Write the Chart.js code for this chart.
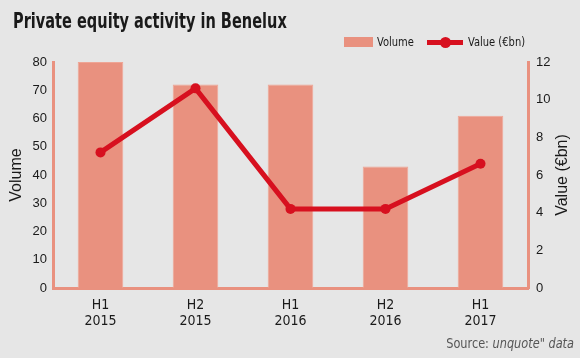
<!DOCTYPE html>
<html>
<head>
<meta charset="utf-8">
<script src="https://cdn.jsdelivr.net/npm/chart.js@4.4.1/dist/chart.umd.min.js"></script>
<style>
  html, body { margin: 0; padding: 0; background: #e6e6e6; }
  #wrap { position: relative; width: 580px; height: 358px; overflow: hidden; background: #e6e6e6; }
  #chart { position: absolute; left: 0; top: 0; }
  .narrow { font-family: "Liberation Sans Narrow", "DejaVu Sans Condensed", sans-serif; }
  #title { position: absolute; left: 13px; top: 9px; font-size: 21px; font-weight: bold; color: #1a1a1a; white-space: nowrap;
           transform: scaleX(0.77); transform-origin: left center; }
  .lg { position: absolute; font-size: 13px; line-height: 16px; color: #1a1a1a; white-space: nowrap;
        transform: scaleX(0.85); transform-origin: left center; }
  .swatch { position: absolute; left: 344px; top: 37px; width: 29px; height: 10px; background: #e9917f; }
  .lineSym { position: absolute; left: 427px; top: 40px; width: 36px; height: 5px; background: #d7101f; }
  .dot { position: absolute; left: 440px; top: 37px; width: 11px; height: 11px; border-radius: 50%; background: #d7101f; }
  #source { position: absolute; right: 6px; top: 334px; font-size: 14px; line-height: 18px; color: #555; white-space: nowrap;
            transform: scaleX(0.9); transform-origin: right center; }
</style>
</head>
<body>
<div id="wrap">
  <canvas id="chart" width="580" height="358"></canvas>
  <div id="title" class="narrow">Private equity activity in Benelux</div>
  <div class="swatch"></div>
  <div class="lg narrow" style="left:377px; top:34px">Volume</div>
  <div class="lineSym"></div>
  <div class="dot"></div>
  <div class="lg narrow" style="left:468px; top:34px">Value (€bn)</div>
  <div id="source" class="narrow">Source: <i>unquote" data</i></div>
</div>
<script>
// data
const periods = [['H1', '2015'], ['H2', '2015'], ['H1', '2016'], ['H2', '2016'], ['H1', '2017']];
const volume = [80, 72, 72, 43, 61];
const valueBn = [7.2, 10.6, 4.2, 4.2, 6.6];
const volumeTicks = [0, 10, 20, 30, 40, 50, 60, 70, 80];
const valueTicks = [0, 2, 4, 6, 8, 10, 12];

const salmon = '#e9917f';
const red = '#d7101f';
const tickFont = { family: '"Liberation Sans", Arial, sans-serif', size: 13 };

// axis titles drawn by hand so the right one reads bottom to top like the original
const axisTitles = {
    id: 'axisTitles',
    afterDraw(chart) {
        const { ctx, chartArea } = chart;
        const midY = (chartArea.top + chartArea.bottom) / 2;
        ctx.save();
        ctx.fillStyle = '#1a1a1a';
        ctx.font = '16px "Liberation Sans", Arial, sans-serif';
        ctx.textAlign = 'center';
        ctx.textBaseline = 'middle';
        [['Volume', 17], ['Value (€bn)', 563]].forEach(([txt, x]) => {
            ctx.save();
            ctx.translate(x, midY);
            ctx.rotate(-Math.PI / 2);
            ctx.fillText(txt, 0, 0);
            ctx.restore();
        });
        ctx.restore();
    }
};

new Chart(document.getElementById('chart'), {
    data: {
        labels: periods,
        datasets: [
            {
                type: 'line',
                label: 'Value (€bn)',
                data: valueBn,
                yAxisID: 'yValue',
                borderColor: red,
                backgroundColor: red,
                borderWidth: 5,
                pointRadius: 5,
                pointHoverRadius: 5,
                pointBackgroundColor: red,
                pointBorderWidth: 0,
                tension: 0,
                order: 0
            },
            {
                type: 'bar',
                label: 'Volume',
                data: volume,
                yAxisID: 'yVolume',
                backgroundColor: salmon,
                borderColor: '#efa595',
                borderWidth: 1,
                barPercentage: 0.48,
                categoryPercentage: 1,
                order: 1
            }
        ]
    },
    options: {
        responsive: false,
        animation: false,
        layout: { padding: { top: 62, left: 0, right: 0, bottom: 0 } },
        plugins: {
            legend: { display: false },
            title: { display: false },
            tooltip: { enabled: false }
        },
        scales: {
            x: {
                grid: { display: false, drawTicks: false },
                border: { display: true, color: salmon, width: 3 },
                ticks: {
                    color: '#1a1a1a',
                    padding: 9,
                    font: { family: '"Liberation Sans Narrow", "DejaVu Sans Condensed", sans-serif', size: 14, lineHeight: 1.15 },
                    maxRotation: 0
                },
                afterFit(scale) { scale.height = 70; }
            },
            yVolume: {
                position: 'left',
                min: 0,
                max: 80,
                afterBuildTicks(scale) { scale.ticks = volumeTicks.map(v => ({ value: v })); },
                grid: { display: false, drawTicks: false },
                border: { display: true, color: salmon, width: 3 },
                ticks: { color: '#1a1a1a', padding: 6, font: tickFont },
                afterFit(scale) { scale.width = 53; }
            },
            yValue: {
                position: 'right',
                min: 0,
                max: 12,
                afterBuildTicks(scale) { scale.ticks = valueTicks.map(v => ({ value: v })); },
                grid: { display: false, drawTicks: false },
                border: { display: true, color: salmon, width: 3 },
                ticks: { color: '#1a1a1a', padding: 8, font: tickFont },
                afterFit(scale) { scale.width = 52; }
            }
        }
    },
    plugins: [axisTitles]
});
</script>
</body>
</html>
